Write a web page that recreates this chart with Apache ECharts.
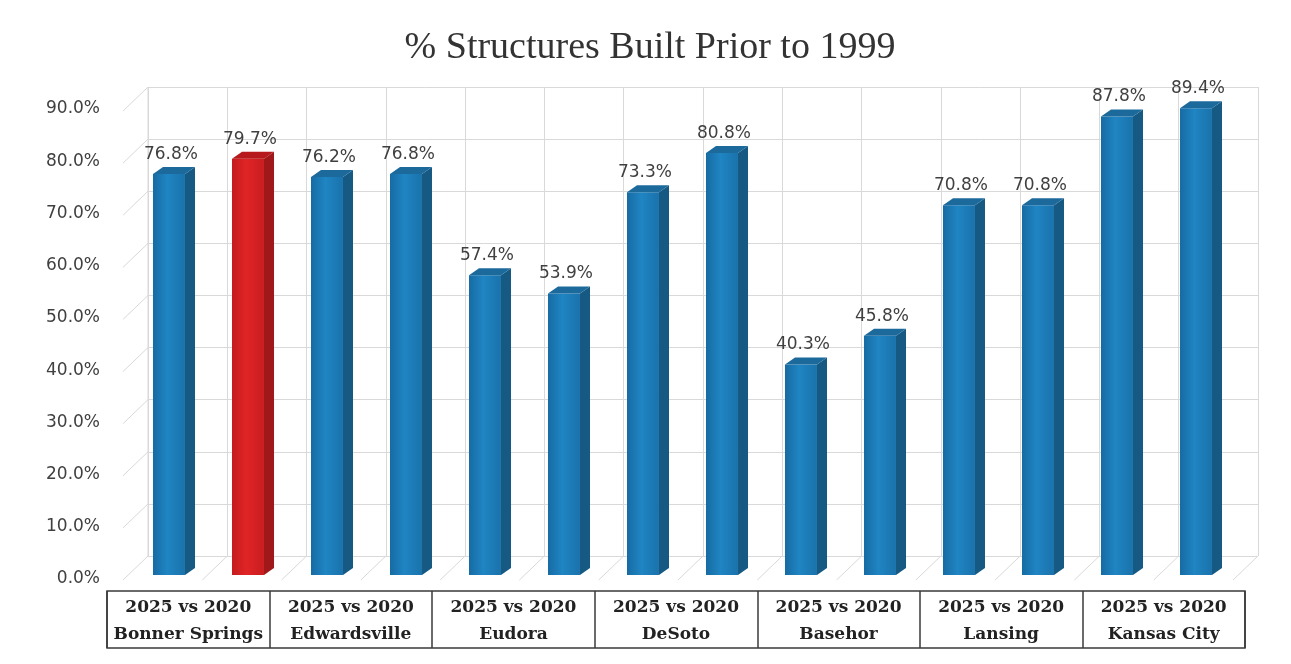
<!DOCTYPE html>
<html><head><meta charset="utf-8">
<script src="https://cdn.jsdelivr.net/npm/echarts@6/dist/echarts.min.js"></script>
<style>html,body{margin:0;padding:0;background:#fff}#c{width:1291px;height:664px}</style>
</head><body><div id="c"></div>
<script>
// ---- data ----
const titleText = '% Structures Built Prior to 1999';
const cities = ['Bonner Springs','Edwardsville','Eudora','DeSoto','Basehor','Lansing','Kansas City'];
const groupLabel = '2025 vs 2020';
const years = ['2025','2020'];
const values = [76.8, 79.7, 76.2, 76.8, 57.4, 53.9, 73.3, 80.8, 40.3, 45.8, 70.8, 70.8, 87.8, 89.4];
const highlighted = [1];           // index of the red bar
const yMin = 0, yMax = 90, yStep = 10;

// ---- derived ----
const barCats = [];
cities.forEach(c => years.forEach(y => barCats.push(c + ' ' + y)));
const yTickVals = [];
for (let v = yMin; v <= yMax; v += yStep) yTickVals.push(v);

const DEPTH = [-25, 24];   // back wall -> front edge
const BLUE = {
  face: new echarts.graphic.LinearGradient(0,0,1,0,[{offset:0,color:'#176ba3'},{offset:0.45,color:'#1f85c3'},{offset:1,color:'#1a72ab'}]),
  side: '#165a83', top: '#1c6a9c'
};
const RED = {
  face: new echarts.graphic.LinearGradient(0,0,1,0,[{offset:0,color:'#c41b1d'},{offset:0.45,color:'#e02426'},{offset:1,color:'#c91d1f'}]),
  side: '#a0181a', top: '#b61a1c'
};

function renderBar(params, api) {
  const idx = api.value(0), v = api.value(1);
  const top = api.coord([idx, v]);
  const base = api.coord([idx, 0]);
  const slot = api.size([1, 0])[0];
  const faceW = slot * 0.405, dX = slot * 0.127, dY = -7;
  const x0 = top[0] - (faceW + dX) / 2, x1 = x0 + faceW;
  const yT = top[1], yB = base[1];
  const c = highlighted.indexOf(idx) >= 0 ? RED : BLUE;
  return {
    type: 'group',
    children: [
      { type: 'polygon', shape: { points: [[x1, yT], [x1 + dX, yT + dY], [x1 + dX, yB + dY], [x1, yB]] }, style: { fill: c.side } },
      { type: 'rect', shape: { x: x0, y: yT, width: faceW, height: yB - yT }, style: { fill: c.face } },
      { type: 'polygon', shape: { points: [[x0, yT], [x0 + dX, yT + dY], [x1 + dX, yT + dY], [x1, yT]] }, style: { fill: c.top } },
      { type: 'text', x: x0 + faceW / 2 + 2, y: yT + dY - 4,
        style: { text: v.toFixed(1) + '%', fill: '#404040', font: '17px "DejaVu Sans"', align: 'center', verticalAlign: 'bottom' } }
    ]
  };
}

function renderWalls(params, api) {
  const slot = api.size([1, 0])[0];
  const left = api.coord([0, 0])[0] - slot / 2;
  const y0 = api.coord([0, 0])[1];
  const children = [];
  const st = { stroke: '#d9d9d9', lineWidth: 1 };
  yTickVals.forEach(v => {
    const y = api.coord([0, v])[1];
    children.push({ type: 'line', shape: { x1: left, y1: y, x2: left + DEPTH[0], y2: y + DEPTH[1] }, style: st });
  });
  for (let k = 1; k <= barCats.length; k++) {
    const x = left + k * slot;
    children.push({ type: 'line', shape: { x1: x, y1: y0, x2: x + DEPTH[0], y2: y0 + DEPTH[1] }, style: st });
  }
  children.push({ type: 'line', shape: { x1: left, y1: api.coord([0, yMax])[1], x2: left, y2: y0 }, style: st });
  return { type: 'group', children };
}

const chart = echarts.init(document.getElementById('c'), null, { renderer: 'canvas' });
chart.setOption({
  backgroundColor: '#ffffff',
  animation: false,
  title: {
    text: titleText, left: 650, textAlign: 'center', top: 29, padding: 0,
    textStyle: { fontFamily: '"Liberation Serif", serif', fontSize: 38, fontWeight: 'normal', color: '#333333' }
  },
  grid: [
    { left: 134.5, right: 50.5, top: 105, bottom: 89 },          // bars plane
    { left: 148, right: 33, top: 87, bottom: 108 },               // back wall
    { left: 121, right: 60, top: 109, bottom: 85 },               // front labels
    { left: 107, right: 46, top: 591, bottom: 16, show: true, borderColor: '#3a3a3a', borderWidth: 1.5 } // table
  ],
  xAxis: [
    { gridIndex: 0, type: 'category', data: barCats, show: false },
    { gridIndex: 1, type: 'category', data: barCats, axisLine: { show: false }, axisTick: { show: false }, axisLabel: { show: false },
      splitLine: { show: true, interval: 0, lineStyle: { color: '#d9d9d9' } } },
    { gridIndex: 2, type: 'value', show: false },
    { gridIndex: 3, type: 'category', data: cities, axisLine: { show: false }, axisTick: { show: false },
      splitLine: { show: true, interval: 0, lineStyle: { color: '#3a3a3a', width: 1.5 } },
      axisLabel: { interval: 0, margin: -54, lineHeight: 27, fontFamily: '"DejaVu Serif", serif', fontSize: 17, fontWeight: 'bold', color: '#222',
        formatter: v => groupLabel + '\n' + v } }
  ],
  yAxis: [
    { gridIndex: 0, type: 'value', min: yMin, max: yMax, interval: yStep, show: false },
    { gridIndex: 1, type: 'value', min: yMin, max: yMax, interval: yStep, axisLine: { show: false }, axisTick: { show: false }, axisLabel: { show: false },
      splitLine: { show: true, lineStyle: { color: '#d9d9d9' } } },
    { gridIndex: 2, type: 'value', min: yMin, max: yMax, interval: yStep, axisLine: { show: false }, axisTick: { show: false }, splitLine: { show: false },
      axisLabel: { margin: 21, fontFamily: '"DejaVu Sans", sans-serif', fontSize: 17, color: '#404040', formatter: v => v.toFixed(1) + '%' } },
    { gridIndex: 3, type: 'value', show: false }
  ],
  series: [
    { type: 'custom', xAxisIndex: 1, yAxisIndex: 1, data: [[0, 0]], renderItem: renderWalls, silent: true, z: 1 },
    { type: 'custom', xAxisIndex: 0, yAxisIndex: 0, data: values.map((v, i) => [i, v]), renderItem: renderBar, z: 5 }
  ]
});
</script></body></html>
